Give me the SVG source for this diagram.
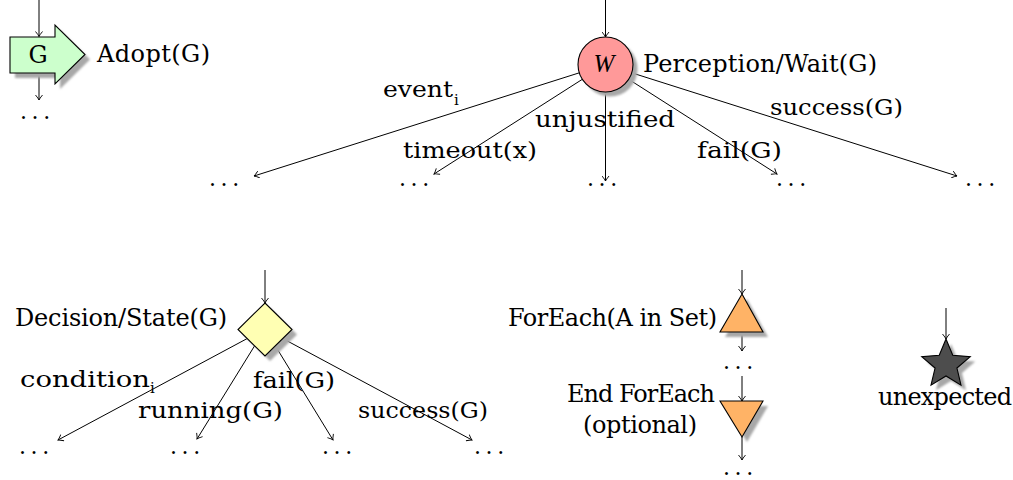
<svg xmlns="http://www.w3.org/2000/svg" width="1013" height="480" viewBox="0 0 1013 480">
<style>
.t{font-family:"DejaVu Serif",serif;font-size:24px;fill:#000}
.m{font-family:"DejaVu Serif",serif;font-size:23px;fill:#000}
.s{font-family:"DejaVu Serif",serif;font-size:15px;fill:#000}
.d{font-family:"DejaVu Serif",serif;font-size:22px;letter-spacing:4.6px;fill:#000}
.c{fill:none;stroke:#000;stroke-width:1;marker-end:url(#arr)}
.n{stroke:#000;stroke-width:1.1}
.sh{fill:#a8a8a8;filter:url(#blur)}
</style>
<defs>
<marker id="arr" viewBox="-6 -4 7 8" markerWidth="7" markerHeight="8" refX="0" refY="0" orient="auto" markerUnits="userSpaceOnUse">
<path d="M-5,-3.5 Q-1.5,-0.6 0,0 Q-1.5,0.6 -5,3.5" fill="none" stroke="#000" stroke-width="0.9"/>
</marker>
<filter id="blur" x="-20%" y="-20%" width="140%" height="140%"><feGaussianBlur stdDeviation="0.9"/></filter>
</defs>
<rect width="1013" height="480" fill="#fff"/>
<g id="connectors">
<path class="c" d="M39,0 V36.5"/>
<path class="c" d="M39,73 V100"/>
<path class="c" d="M605.5,0 V37"/>
<path class="c" d="M605.5,64.5 L254,176"/>
<path class="c" d="M605.5,64.5 L434,174"/>
<path class="c" d="M605.5,64.5 L605.5,181"/>
<path class="c" d="M605.5,64.5 L777,174"/>
<path class="c" d="M605.5,64.5 L957,176"/>
<path class="c" d="M265,270 V303"/>
<path class="c" d="M265,329 L58,440"/>
<path class="c" d="M265,329 L197,439"/>
<path class="c" d="M265,329 L333,440"/>
<path class="c" d="M265,329 L472,440"/>
<path class="c" d="M742,270 V294"/>
<path class="c" d="M742,332 V351"/>
<path class="c" d="M742,376 V401"/>
<path class="c" d="M742,437 V460"/>
<path class="c" d="M946,308 V339"/>
</g>
<g id="adopt">
<path class="sh" transform="translate(5,5)" d="M10,37 L55,37 L55,25 L85,54.5 L55,84 L55,73 L10,73 Z"/>
<path class="n" fill="#ccffcc" d="M10,37 L55,37 L55,25 L85,54.5 L55,84 L55,73 L10,73 Z"/>
<text class="t" x="38" y="63" text-anchor="middle">G</text>
<text class="t" x="97" y="61.5" textLength="113">Adopt(G)</text>
<text class="d" x="20" y="119">...</text>
</g>
<g id="wait">
<circle class="sh" cx="610" cy="69" r="27.5"/>
<circle class="n" cx="605.5" cy="64.5" r="27.5" fill="#ff9999"/>
<text x="604" y="72" text-anchor="middle" style="font-family:'Liberation Serif',serif;font-style:italic;font-size:25px">W</text>
<text class="t" x="643" y="72" textLength="234">Perception/Wait(G)</text>
</g>
<g id="wait-branches">
<text class="m" x="383" y="97" textLength="70" lengthAdjust="spacingAndGlyphs">event</text><text class="s" x="454" y="105">i</text>
<text class="m" x="535" y="127" textLength="140" lengthAdjust="spacingAndGlyphs">unjustified</text>
<text class="m" x="403" y="158" textLength="134" lengthAdjust="spacingAndGlyphs">timeout(x)</text>
<text class="m" x="697" y="158" textLength="85" lengthAdjust="spacingAndGlyphs">fail(G)</text>
<text class="m" x="770" y="115" textLength="133" lengthAdjust="spacingAndGlyphs">success(G)</text>
<text class="d" x="209" y="186">...</text>
<text class="d" x="399" y="186">...</text>
<text class="d" x="587" y="186">...</text>
<text class="d" x="776" y="186">...</text>
<text class="d" x="965" y="186">...</text>
</g>
<g id="decision">
<path class="sh" transform="translate(5,5)" d="M265,303 L292,329.5 L265,356 L238,329.5 Z"/>
<path class="n" fill="#ffffb3" d="M265,303 L292,329.5 L265,356 L238,329.5 Z"/>
<text class="t" x="15" y="326" textLength="212">Decision/State(G)</text>
</g>
<g id="decision-branches">
<text class="m" x="20" y="387" textLength="130" lengthAdjust="spacingAndGlyphs">condition</text><text class="s" x="150" y="393">i</text>
<text class="m" x="253" y="388" textLength="82" lengthAdjust="spacingAndGlyphs">fail(G)</text>
<text class="m" x="138" y="418" textLength="145" lengthAdjust="spacingAndGlyphs">running(G)</text>
<text class="m" x="358" y="418" textLength="130" lengthAdjust="spacingAndGlyphs">success(G)</text>
<text class="d" x="19" y="454">...</text>
<text class="d" x="170" y="454">...</text>
<text class="d" x="322" y="454">...</text>
<text class="d" x="474" y="454">...</text>
</g>
<g id="foreach">
<path class="sh" transform="translate(5,5)" d="M742,294 L763,332 L720,332 Z"/>
<path class="n" fill="#ffb366" d="M742,294 L763,332 L720,332 Z"/>
<text class="t" x="508" y="326" textLength="209">ForEach(A in Set)</text>
<text class="d" x="723" y="369">...</text>
</g>
<g id="endforeach">
<path class="sh" transform="translate(5,5)" d="M720,401 L763,401 L742,437 Z"/>
<path class="n" fill="#ffb366" d="M720,401 L763,401 L742,437 Z"/>
<text class="t" x="567" y="402" textLength="148">End ForEach</text>
<text class="t" x="583" y="433" textLength="114">(optional)</text>
<text class="d" x="723" y="475">...</text>
</g>
<g id="unexpected">
<path class="sh" transform="translate(5,5)" d="M946,339 L952.76,355.2 L970.25,356.62 L956.94,368.05 L960.99,385.13 L946,376 L931.01,385.13 L935.06,368.05 L921.75,356.62 L939.24,355.2 Z"/>
<path class="n" fill="#4d4d4d" d="M946,339 L952.76,355.2 L970.25,356.62 L956.94,368.05 L960.99,385.13 L946,376 L931.01,385.13 L935.06,368.05 L921.75,356.62 L939.24,355.2 Z"/>
<text class="t" x="878" y="405" textLength="134">unexpected</text>
</g>
</svg>
